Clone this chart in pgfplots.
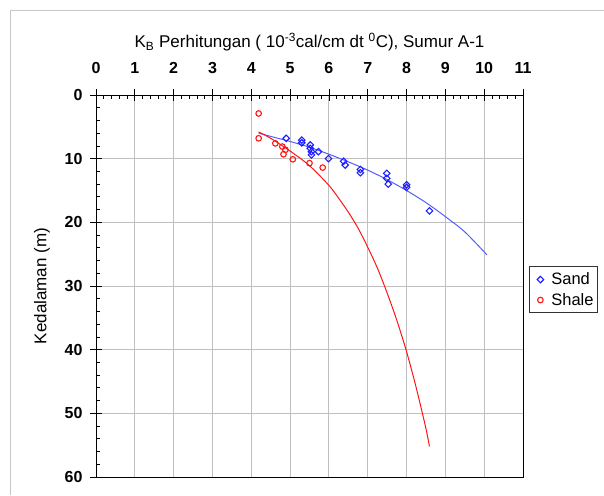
\documentclass[border=0pt]{standalone}
\usepackage{pgfplots}
\pgfplotsset{compat=1.18}
\usepackage{fontspec}
\setmainfont{Liberation Sans}
\definecolor{sandblue}{RGB}{30,30,255}
\definecolor{sandline}{RGB}{80,95,255}
\definecolor{shalered}{RGB}{255,20,20}
\definecolor{gridgray}{RGB}{192,192,192}
\begin{document}
\begin{tikzpicture}
\useasboundingbox (0,0) rectangle (604pt,495pt);
\draw[gray!45, line width=0.8pt] (10pt,0) -- (10pt,485pt) -- (604pt,485pt);
\begin{axis}[
  at={(96pt,18pt)}, anchor=south west,
  scale only axis, width=427pt, height=382pt,
  xmin=0, xmax=11, ymin=0, ymax=60, y dir=reverse,
  xtick={0,...,11}, ytick={0,10,...,60},
  minor x tick num=4, minor y tick num=4,
  xtick pos=upper, xticklabel pos=upper, ytick pos=left,
  tick align=inside, major tick length=6pt, minor tick length=4pt,
  extra x ticks={0,...,11}, extra x tick labels={},
  extra y ticks={0,10,...,60}, extra y tick labels={},
  extra tick style={tick align=outside, major tick length=6pt, grid=none},
  grid=major, major grid style={gridgray, line width=0.9pt},
  axis line style={black, line width=1pt},
  tick style={black, line width=0.8pt},
  ticklabel style={font=\fontsize{16}{16}\selectfont\bfseries},
  /pgf/number format/assume math mode=true,
  xticklabel shift=18pt, yticklabel shift=10pt,
  title={K\textsubscript{B} Perhitungan ( 10\textsuperscript{-3}cal/cm dt \textsuperscript{0}C), Sumur A-1},
  title style={at={(0.5,1)}, anchor=center, yshift=47pt, font=\fontsize{17}{18}\selectfont},
  ylabel={Kedalaman (m)},
  ylabel style={at={(-0.1264,0.5)}, anchor=center, rotate=0, font=\fontsize{17}{18}\selectfont},
  legend style={at={(1.014,0.49)}, anchor=west, draw=black!80, line width=0.8pt,
    font=\fontsize{16.5}{19}\selectfont, row sep=3pt, inner xsep=2pt, inner ysep=4pt},
  legend image code/.code={%
    \pgfpathrectangle{\pgfpoint{0pt}{-3pt}}{\pgfpoint{18pt}{6pt}}\pgfusepath{use as bounding box}%
    \draw[mark repeat=2, mark phase=2, #1] plot coordinates {(0pt,0pt) (9pt,0pt) (18pt,0pt)};},
  legend cell align=left,
]
\addplot[sandline, line width=1pt, smooth, forget plot] coordinates {
(4.19,6.0) (4.5,6.5) (5.0,7.3) (5.5,8.2) (6.0,9.3) (6.5,10.5) (7.0,11.8)
(7.5,13.3) (8.0,15.0) (8.5,16.9) (9.0,19.1) (9.5,21.5) (10.07,25.1)};
\addplot[shalered, line width=1pt, smooth, forget plot] coordinates {
(4.19,5.8) (4.5,6.8) (5.0,8.8) (5.5,11.1) (6.0,14.2) (6.25,16.2) (6.5,18.4)
(6.75,20.9) (7.0,23.9) (7.25,27.2) (7.5,31.1) (7.75,35.4) (8.0,40.3)
(8.25,46.0) (8.5,52.4) (8.59,55.2)};
\addplot[only marks, mark=square, mark size=2.3pt, sandblue, mark options={rotate=45, line width=1.1pt}] coordinates {
(4.90,6.8) (5.30,7.1) (5.30,7.5) (5.52,7.85) (5.52,8.4) (5.55,8.9) (5.55,9.4)
(5.73,8.9) (5.99,10.0) (6.38,10.4) (6.42,11.0) (6.81,11.7) (6.81,12.2)
(7.49,12.3) (7.49,13.1) (7.53,14.0) (8.00,14.1) (8.00,14.5) (8.59,18.2)};
\addlegendentry{Sand}
\addplot[only marks, mark=o, mark size=2.8pt, shalered, mark options={line width=1.1pt}] coordinates {
(4.19,2.9) (4.19,6.8) (4.62,7.6) (4.80,8.1) (4.88,8.6) (4.83,9.3)
(5.07,10.1) (5.50,10.7) (5.84,11.4)};
\addlegendentry{Shale}
\end{axis}
\end{tikzpicture}
\end{document}
